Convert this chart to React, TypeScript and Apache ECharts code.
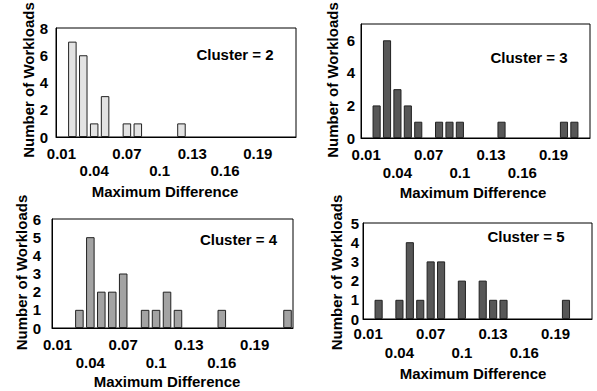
import React, { useEffect, useRef } from "react";
import * as echarts from "echarts";

const categories = [
  "0.01", "0.02", "0.03", "0.04", "0.05", "0.06", "0.07", "0.08", "0.09", "0.1", "0.11",
  "0.12", "0.13", "0.14", "0.15", "0.16", "0.17", "0.18", "0.19", "0.2", "0.21", "0.22",
];
const cluster2 = [0, 7, 6, 1, 3, 0, 1, 1, 0, 0, 0, 1, 0, 0, 0, 0, 0, 0, 0, 0, 0, 0];
const cluster3 = [0, 2, 6, 3, 2, 1, 0, 1, 1, 1, 0, 0, 0, 1, 0, 0, 0, 0, 0, 1, 1, 0];
const cluster4 = [0, 0, 1, 5, 2, 2, 3, 0, 1, 1, 2, 1, 0, 0, 0, 1, 0, 0, 0, 0, 0, 1];
const cluster5 = [0, 1, 0, 1, 4, 1, 3, 3, 0, 2, 0, 2, 1, 1, 0, 0, 0, 0, 0, 1, 0, 0];
const clusterLabels = ["Cluster = 2", "Cluster = 3", "Cluster = 4", "Cluster = 5"];
const yMax = [8, 7, 6, 5];
const yInterval = [2, 2, 1, 1];
const xTitle = "Maximum Difference";
const yTitle = "Number of Workloads";

const FONT = "Liberation Sans, Arial, sans-serif";

const panels = [
  { data: cluster2, color: "#e3e3e3", grid: { left: 56, top: 28, width: 240, height: 109 }, lh: 17, xm: 7.5, ym: 8, clusterPos: [235, 54], xTitlePos: [165, 191], yTitlePos: [28, 80] },
  { data: cluster3, color: "#575757", grid: { left: 361, top: 24, width: 229, height: 114 }, lh: 17.5, xm: 8, ym: 6, clusterPos: [529, 57.5], xTitlePos: [473, 192], yTitlePos: [332.5, 80] },
  { data: cluster4, color: "#a3a3a3", grid: { left: 52, top: 219, width: 241, height: 109 }, lh: 18, xm: 7, ym: 11, clusterPos: [238.5, 239], xTitlePos: [167, 381.5], yTitlePos: [21.5, 272.5] },
  { data: cluster5, color: "#575757", grid: { left: 363, top: 223, width: 229, height: 96 }, lh: 19, xm: 5, ym: 4, clusterPos: [526, 236], xTitlePos: [473, 373], yTitlePos: [336, 272.5] },
];

export default function App() {
  const ref = useRef<HTMLDivElement>(null);
  useEffect(() => {
    if (!ref.current) return;
    const chart = echarts.init(ref.current, null, { renderer: "svg" });
    const textStyleBase = { fontFamily: FONT, fontWeight: "bold", fontSize: 15, fill: "#000" };
    const graphics: any[] = [];
    panels.forEach((p, i) => {
      graphics.push({
        type: "text",
        x: p.clusterPos[0],
        y: p.clusterPos[1],
        style: { ...textStyleBase, text: clusterLabels[i], textAlign: "center", textVerticalAlign: "middle" },
      });
      graphics.push({
        type: "text",
        x: p.xTitlePos[0],
        y: p.xTitlePos[1],
        style: { ...textStyleBase, text: xTitle, textAlign: "center", textVerticalAlign: "middle" },
      });
      graphics.push({
        type: "text",
        x: p.yTitlePos[0],
        y: p.yTitlePos[1],
        rotation: Math.PI / 2,
        style: { ...textStyleBase, text: yTitle, textAlign: "center", textVerticalAlign: "middle" },
      });
    });
    chart.setOption({
      animation: false,
      grid: panels.map((p) => ({
        ...p.grid,
        show: true,
        borderColor: "#000",
        borderWidth: 1,
        backgroundColor: "transparent",
        containLabel: false,
      })),
      xAxis: panels.map((p, i) => ({
        type: "category",
        gridIndex: i,
        data: categories,
        axisLine: { show: true, lineStyle: { color: "#000", width: 1 } },
        axisTick: { show: false },
        splitLine: { show: false },
        axisLabel: {
          interval: (index: number) => index % 3 === 0 && index < 21,
          formatter: (value: string, index: number) => (index % 6 === 3 ? "\n" + value : value),
          fontFamily: FONT,
          fontWeight: "bold",
          fontSize: 15,
          color: "#000",
          lineHeight: p.lh,
          margin: p.xm,
          verticalAlign: "top",
        },
      })),
      yAxis: panels.map((p, i) => ({
        type: "value",
        gridIndex: i,
        min: 0,
        max: yMax[i],
        interval: yInterval[i],
        axisLine: { show: true, lineStyle: { color: "#000", width: 1 } },
        axisTick: { show: false },
        splitLine: { show: false },
        axisLabel: {
          fontFamily: FONT,
          fontWeight: "bold",
          fontSize: 15,
          color: "#000",
          margin: p.ym,
          showMaxLabel: i === 1 ? false : true,
          formatter: (v: number) => (v % yInterval[i] === 0 ? String(v) : ""),
        },
      })),
      series: panels.map((p, i) => ({
        type: "bar",
        xAxisIndex: i,
        yAxisIndex: i,
        data: p.data.map((v) => (v === 0 ? "-" : v)),
        barCategoryGap: "22%",
        itemStyle: { color: p.color, borderColor: "#222", borderWidth: 1 },
      })),
      graphic: graphics,
    });
    return () => chart.dispose();
  }, []);
  return (
    <div
      ref={ref}
      style={{ position: "fixed", left: 0, top: 0, width: 597, height: 391, background: "#fff" }}
    />
  );
}
